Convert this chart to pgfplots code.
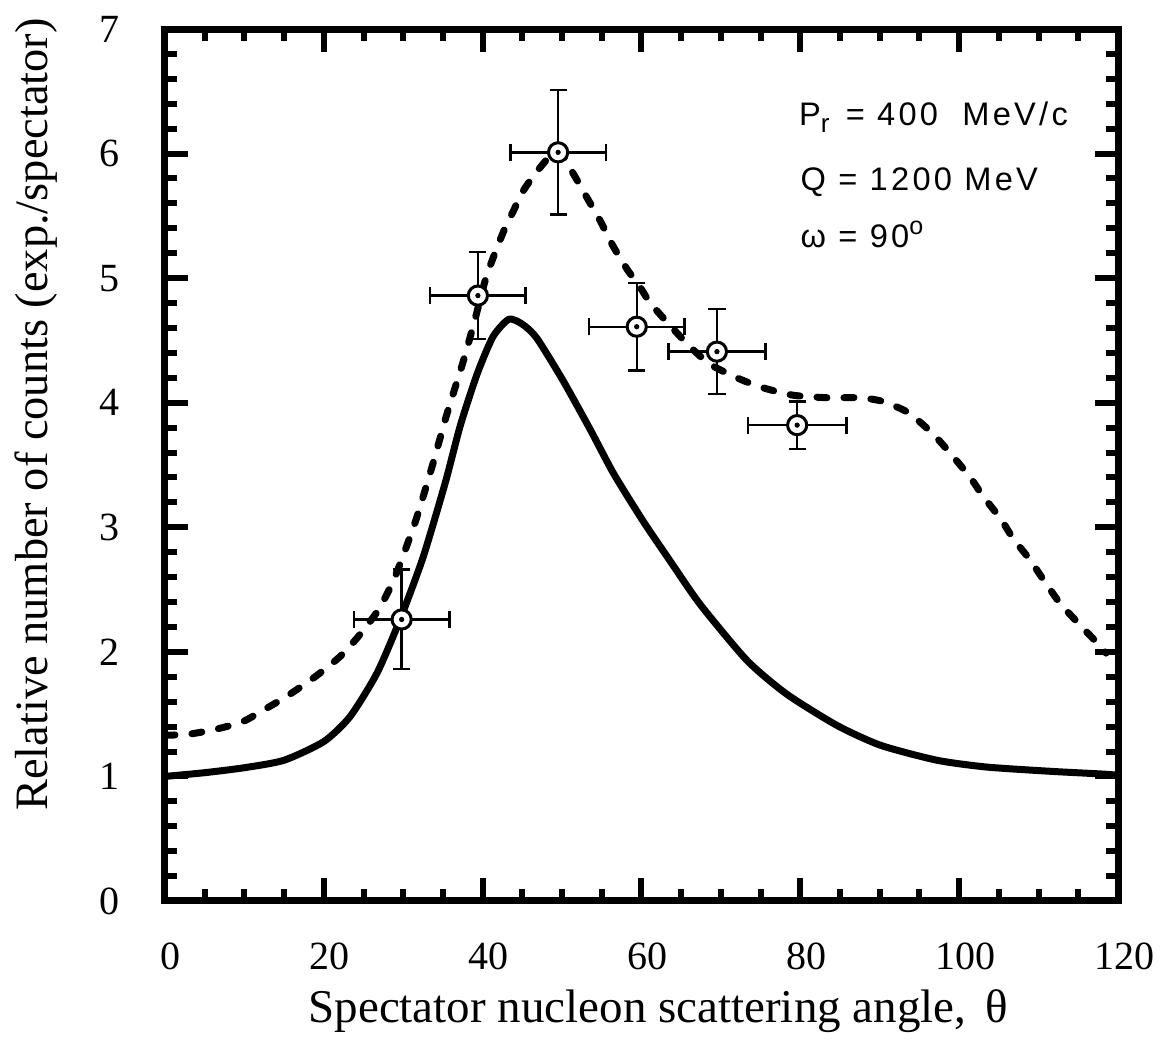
\documentclass[border=0pt]{standalone}
\usepackage{fontspec}
\setmainfont{Liberation Serif}
\newfontfamily\annfont[LetterSpace=10]{Liberation Sans}
\usepackage{pgfplots}
\pgfplotsset{compat=1.18}
\begin{document}
\begin{tikzpicture}
\path[use as bounding box] (-82.5pt,-74pt) rectangle (499.5pt,450.5pt);
\begin{axis}[
  at={(0,0)}, anchor=south west,
  scale only axis, width=476.5pt, height=436pt,
  xmin=0, xmax=120, ymin=0, ymax=7,
  xtick={0,20,...,120}, ytick={0,1,...,7},
  minor x tick num=3, minor y tick num=4,
  tick align=inside,
  major tick length=11.5pt, minor tick length=6pt,
  tick style={line width=3pt, black},
  axis line style={line width=3.5pt},
  xtick pos=both, ytick pos=both,
  xticklabel pos=lower, yticklabel pos=left,
  /pgf/number format/assume math mode=true,
  ticklabel style={font=\fontsize{20}{24}\selectfont},
  xticklabel style={anchor=north, inner sep=0pt, yshift=-21pt, xshift=3pt},
  yticklabel style={anchor=east, inner sep=0pt, xshift=-22.5pt},
  clip mode=individual,
]
% solid curve
\addplot[black, line width=3.5pt, line join=round, smooth, tension=0.4] coordinates {
(0,1.0) (5,1.03) (10,1.07) (15,1.13) (20,1.28) (23.3,1.48) (26.7,1.83)
(29.6,2.26) (32.5,2.76) (35.3,3.36) (37.2,3.82) (39.3,4.23) (41.3,4.53) (43.3,4.67)
(45.0,4.63) (46.8,4.52) (50.1,4.18) (53.5,3.79) (56.5,3.43) (60.2,3.05) (63.6,2.73)
(67.4,2.38) (73.3,1.93) (78.3,1.66) (84.6,1.41) (90.1,1.25) (97.2,1.13) (103.5,1.075)
(111.8,1.04) (117.8,1.02) (120,1.01)
};
% dashed curve
\addplot[black, line width=3.5pt, line cap=round, dash pattern=on 5pt off 8.5pt, smooth, tension=0.4] coordinates {
(0,1.33) (3.1,1.34) (6.5,1.38) (9.8,1.44) (12.6,1.54) (15.5,1.65) (18.9,1.80)
(22.0,1.96) (24.3,2.12) (26.7,2.32) (28.0,2.47) (29.2,2.64) (31.5,3.04) (33.6,3.48)
(35.5,3.91) (37.5,4.32) (39.0,4.66) (40.5,5.02) (42.6,5.37) (43.8,5.53) (45.1,5.70)
(47.0,5.87) (49.5,6.03) (51.4,5.84) (53.1,5.65) (54.8,5.46) (56.4,5.26) (58.2,5.07)
(59.8,4.93) (61.1,4.80) (63.6,4.62) (66.1,4.45) (68.6,4.31) (72.0,4.20) (75.3,4.12)
(79.1,4.06) (83.4,4.04) (87.5,4.04) (90.4,4.01) (93.6,3.92) (96.7,3.75) (99.2,3.57)
(101.4,3.40) (103.0,3.25) (105.2,3.07) (106.8,2.91) (108.9,2.74) (110.6,2.58)
(112.7,2.39) (115.0,2.23) (117.4,2.07) (118.5,1.99)
};
% data points with error bars
\addplot[black, only marks, mark=*, mark size=4.8pt,
  mark options={fill=white, draw=black, line width=1.5pt},
  error bars/.cd, x dir=both, x explicit, y dir=both, y explicit,
  error mark=-,
  error bar style={line width=1.2pt, black},
  error mark options={rotate=90, line width=1.2pt, mark size=4.3pt, black}]
  coordinates {
(29.8,2.26) +- (6,0.40)
(39.4,4.86) +- (6,0.35)
(49.5,6.01) +- (6,0.50)
(59.4,4.61) +- (6,0.35)
(69.5,4.41) +- (6.1,0.34)
(79.6,3.82) +- (6.2,0.19)
};
\addplot[only marks, mark=*, mark size=1.1pt, black] coordinates {
(29.8,2.26) (39.4,4.86) (49.5,6.01) (59.4,4.61) (69.5,4.41) (79.6,3.82)
};
% axis labels
\node[anchor=base, inner sep=0pt, font=\fontsize{23.5}{28}\selectfont] at (axis description cs:0.5178,-0.1388) {Spectator nucleon scattering angle,\, θ};
\node[rotate=90, anchor=base, inner sep=0pt, font=\fontsize{23.2}{28}\selectfont] at (axis description cs:-0.1238,0.558) {Relative number of counts (exp./spectator)};
% annotation
\node[anchor=base west, inner sep=0pt, font=\annfont\fontsize{16.3}{19}\selectfont] at (axis cs:79.8,6.228) {P\raisebox{-0.45ex}{\fontsize{13}{12}\selectfont r}\hspace{2pt} = 400\hspace{6pt} MeV/c};
\node[anchor=base west, inner sep=0pt, font=\annfont\fontsize{16.3}{19}\selectfont] at (axis cs:80.0,5.70) {Q = 1200 MeV};
\node[anchor=base west, inner sep=0pt, font=\annfont\fontsize{16.3}{19}\selectfont] at (axis cs:80.0,5.25) {ω = 90\raisebox{0.75ex}{\fontsize{12.5}{12}\selectfont o}};
\end{axis}
\end{tikzpicture}
\end{document}
